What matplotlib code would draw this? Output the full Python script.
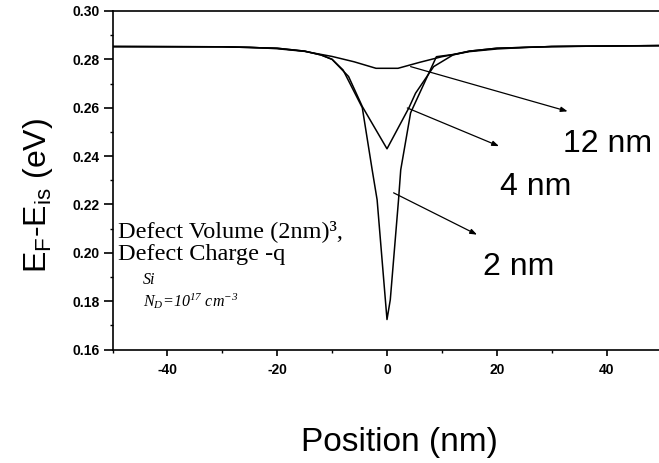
import matplotlib
matplotlib.use("Agg")
import matplotlib.pyplot as plt
from matplotlib.ticker import MultipleLocator, FormatStrFormatter

plt.rcParams["mathtext.default"] = "regular"
plt.rcParams["axes.unicode_minus"] = False

# position (nm) and E_F - E_is (eV)
x_12nm = [-50, -30, -25, -20, -15, -10, -6, -2, 2, 6, 10, 15, 20, 25, 30, 37, 50]
y_12nm = [0.2853, 0.2852, 0.2850, 0.2844, 0.2833, 0.2812, 0.2790, 0.2763, 0.2763,
          0.2788, 0.2811, 0.2832, 0.2843, 0.2849, 0.2853, 0.2855, 0.2857]

x_4nm = [-50, -30, -20, -15, -12, -10, -7, -4.5, 0, 4, 5.2, 8.5, 12, 15, 20, 30, 50]
y_4nm = [0.2853, 0.2852, 0.2846, 0.2834, 0.2818, 0.2800, 0.2729, 0.2605, 0.2430,
         0.2600, 0.2660, 0.2770, 0.2818, 0.2834, 0.2846, 0.2853, 0.2857]

x_2nm = [-50, -30, -20, -15, -12, -10, -8, -4.5, -2.7, -1.8, -0.3, 0, 0.6, 2.1, 2.5,
         4.3, 9, 12, 15, 20, 30, 50]
y_2nm = [0.2853, 0.2852, 0.2846, 0.2834, 0.2818, 0.2800, 0.2756, 0.2600, 0.2343,
         0.2219, 0.1806, 0.1724, 0.1806, 0.2219, 0.2343, 0.2579, 0.2811, 0.2820,
         0.2834, 0.2846, 0.2853, 0.2857]

# (label, arrow start, arrow end, text position)
labels = [
    ("12 nm", (4.3, 0.2770), (32.9, 0.2585), (32.1, 0.2418)),
    ("4 nm", (3.7, 0.2599), (20.4, 0.2441), (20.6, 0.2240)),
    ("2 nm", (1.2, 0.2248), (16.4, 0.2075), (17.5, 0.1910)),
]

sans = "Liberation Sans"
serif = "Liberation Serif"

fig = plt.figure(figsize=(6.59, 4.63), dpi=100)
ax = fig.add_axes([112.5 / 659, 113.5 / 463, 549 / 659, 338.5 / 463])

for xs, ys in [(x_12nm, y_12nm), (x_4nm, y_4nm), (x_2nm, y_2nm)]:
    ax.plot(xs, ys, color="black", lw=1.1)

ax.set_xlim(-50, 50)
ax.set_ylim(0.16, 0.30)
ax.spines["right"].set_visible(False)
for s in ["left", "bottom", "top"]:
    ax.spines[s].set_linewidth(1.2)

ax.xaxis.set_major_locator(MultipleLocator(20))
ax.xaxis.set_minor_locator(MultipleLocator(10))
ax.yaxis.set_major_locator(MultipleLocator(0.02))
ax.yaxis.set_minor_locator(MultipleLocator(0.01))
ax.yaxis.set_major_formatter(FormatStrFormatter("%.2f"))
ax.tick_params(axis="y", which="major", direction="out", length=6.5, width=1.2, pad=3)
ax.tick_params(axis="x", which="major", direction="out", length=4.5, width=1.2, pad=5)
ax.tick_params(which="minor", direction="out", length=2.5, width=1)
ax.tick_params(top=False, right=False, which="both")
for lab in ax.get_xticklabels() + ax.get_yticklabels():
    lab.set_fontfamily(sans)
    lab.set_fontweight("bold")
    lab.set_fontsize(10)

for text, start, end, pos in labels:
    ax.annotate("", xy=end, xytext=start,
                arrowprops=dict(arrowstyle="-|>,head_length=0.4,head_width=0.15",
                                color="black", lw=0.9, shrinkA=0, shrinkB=0))
    ax.text(pos[0], pos[1], text, fontsize=23, family=sans, va="baseline", ha="left")

ax.text(-49, 0.2067, "Defect Volume (2nm)³,", family=serif, fontsize=17.5, va="baseline")
ax.text(-49, 0.1972, "Defect Charge -q", family=serif, fontsize=17.5, va="baseline")
ax.text(-44.5, 0.1869, "Si", family=serif, style="italic", fontsize=11.5, va="baseline")
ax.text(-44.5, 0.1778, "N$_D$=10$^{17}$ cm$^{-3}$", family=serif, style="italic",
        fontsize=11.5, va="baseline")

fig.text(38 / 659, 1 - 196 / 463, "E$_F$-E$_{is}$ (eV)", rotation=90, family=sans,
         fontsize=23, ha="center", va="center")
fig.text(399 / 659, 1 - 442 / 463, "Position (nm)", family=sans, fontsize=24,
         ha="center", va="center")

fig.savefig("out.png", dpi=100)
